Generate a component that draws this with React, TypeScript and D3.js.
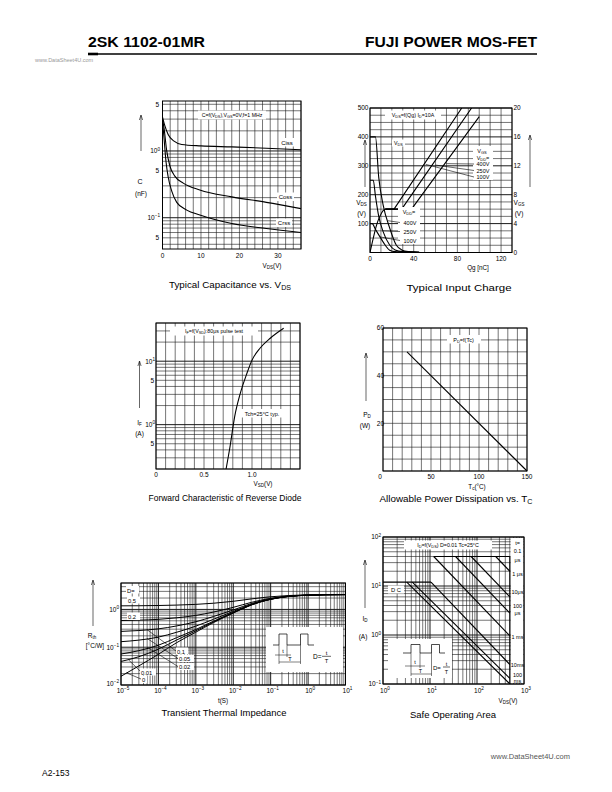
import React from 'react';
import * as d3 from 'd3';

const FONT = "'Liberation Sans', Arial, Helvetica, sans-serif";

// ===== Chart 1: Typical Capacitance vs. VDS =====
const capXTicks = [0, 10, 20, 30];
const cissV = [0, 0.5, 1.5, 3, 5, 10, 18, 27, 36];
const cissC = [3.2, 2.5, 1.75, 1.4, 1.25, 1.19, 1.15, 1.1, 1.04];
const cossV = [0, 0.4, 1.1, 1.9, 3.2, 5.4, 9.7, 18, 27, 36];
const cossC = [3.0, 2.2, 1.0, 0.6, 0.42, 0.33, 0.26, 0.205, 0.17, 0.137];
const crssV = [0, 0.4, 0.9, 1.5, 2.4, 3.7, 6.3, 9.7, 18, 27, 36];
const crssC = [2.8, 1.55, 0.7, 0.4, 0.25, 0.17, 0.13, 0.11, 0.082, 0.069, 0.06];

// ===== Chart 2: Typical Input Charge =====
const qgTicks = [0, 40, 80, 120];
const vdsTicks = [100, 200, 300, 400, 500];
const vgsTicks = [0, 4, 8, 12, 16, 20];
const vgsRiseQ = [0, 3, 6, 9, 12, 14];
const vgsRise = [0, 2, 3.8, 5, 5.8, 6];
const vgs100Q = [14, 22, 84];
const vgs100 = [6, 6, 20];
const vgs250Q = [14, 29, 93];
const vgs250 = [6, 6, 20];
const vgs400Q = [14, 38, 100];
const vgs400 = [6, 6, 18.8];
const vds400Q = [0, 5, 8, 12, 18, 24, 29, 35, 45];
const vds400 = [400, 400, 260, 165, 85, 26, 9, 3, 1];
const vds250Q = [0, 3, 5, 8, 12, 18, 23, 30, 45];
const vds250 = [250, 250, 195, 125, 72, 26, 9, 3, 1];
const vds100Q = [0, 2, 5, 9, 14, 18, 23, 30, 45];
const vds100 = [100, 100, 80, 55, 25, 8, 3, 2, 1];

// ===== Chart 3: Forward Characteristic of Reverse Diode =====
const vsdTicks = [0, 0.5, 1.0];
const diodeV = [0.73, 0.77, 0.82, 0.875, 0.945, 1.0, 1.083, 1.19, 1.33];
const diodeI = [0.2, 0.44, 1.35, 3.0, 6.3, 10.4, 16, 23, 33];

// ===== Chart 4: Allowable Power Dissipation =====
const tcTicks = [0, 50, 100, 150];
const pdTicks = [20, 40, 60];
const pdT = [25, 150];
const pdW = [50, 0];

// ===== Chart 5: Transient Thermal Impedance =====
const thermExp = [-5, -4, -3, -2, -1, 0, 1];
const thermT = [1e-5, 3e-5, 1e-4, 3e-4, 1e-3, 3e-3, 1e-2, 3e-2, 0.1, 0.3, 1, 3, 10];
const zthSingle = [0.017, 0.032, 0.065, 0.13, 0.25, 0.45, 0.8, 1.3, 1.85, 2.2, 2.38, 2.45, 2.47];
const zthD001 = [0.042, 0.056, 0.089, 0.153, 0.272, 0.47, 0.817, 1.31, 1.86, 2.2, 2.38, 2.45, 2.47];
const zthD002 = [0.066, 0.081, 0.113, 0.177, 0.294, 0.49, 0.833, 1.32, 1.86, 2.21, 2.38, 2.45, 2.47];
const zthD005 = [0.14, 0.154, 0.185, 0.247, 0.361, 0.551, 0.884, 1.36, 1.88, 2.21, 2.38, 2.45, 2.47];
const zthD01 = [0.262, 0.276, 0.306, 0.364, 0.472, 0.652, 0.967, 1.42, 1.91, 2.23, 2.39, 2.45, 2.47];
const zthD02 = [0.508, 0.52, 0.546, 0.598, 0.694, 0.854, 1.134, 1.53, 1.97, 2.25, 2.4, 2.45, 2.47];
const zthD05 = [1.244, 1.25, 1.27, 1.3, 1.36, 1.46, 1.64, 1.89, 2.16, 2.33, 2.41, 2.46, 2.47];

// ===== Chart 6: Safe Operating Area =====
const soaExp = [0, 1, 2, 3];
const soaYExp = [2, 1, 0, -1];
const soaDcLimV = [1, 10.5];
const soaDcLimI = [12, 12];
const soaPulseLimV = [12, 500];
const soaPulseLimI = [40, 40];
const soaStartV = [3.2, 4.2, 10.5, 12, 35, 75, 250];
const soaStartI = [12, 12, 12, 40, 40, 40, 40];
const soaEndV = [500, 500, 500, 500, 500, 500, 500];
const soaEndI = [0.1, 0.13, 0.25, 0.96, 2.8, 6, 20];

// ---------- helpers ----------
function logVals(min: number, max: number) {
  const out: number[] = [];
  for (let n = Math.floor(Math.log10(min)); n <= Math.ceil(Math.log10(max)); n++) {
    for (let k = 1; k < 10; k++) {
      const v = k * Math.pow(10, n);
      if (v >= min * 0.9999 && v <= max * 1.0001) out.push(v);
    }
  }
  return out;
}
function isDecade(v: number) {
  const l = Math.log10(v);
  return Math.abs(l - Math.round(l)) < 1e-6;
}
function mkPath(xs: number[], ys: number[], sx: any, sy: any, curve: any = d3.curveMonotoneX) {
  const l = d3.line<number>().x((_, i) => sx(xs[i])).y((_, i) => sy(ys[i])).curve(curve);
  return l(xs) || '';
}
const GRID = '#1a1a1a';

function Pow({ x, y, e, anchor = 'middle', fs = 6.5 }: { x: number; y: number; e: string; anchor?: string; fs?: number }) {
  return (
    <text x={x} y={y} textAnchor={anchor as any} fontSize={fs}>
      10<tspan dy={-fs * 0.42} fontSize={fs * 0.72}>{e}</tspan>
    </text>
  );
}
function UpArrow({ x, y1, y2 }: { x: number; y1: number; y2: number }) {
  return (
    <g stroke="#000" strokeWidth={0.6} fill="none">
      <line x1={x} x2={x} y1={y1} y2={y2 + 0.5} />
      <path d={`M${x - 1.6},${y2 + 5} L${x},${y2} L${x + 1.6},${y2 + 5}`} />
    </g>
  );
}
function Frame({ L, R, T, B }: { L: number; R: number; T: number; B: number }) {
  return <rect x={L} y={T} width={R - L} height={B - T} fill="none" stroke="#000" strokeWidth={1} />;
}
function VGrid({ xs, sx, T, B, major }: { xs: number[]; sx: any; T: number; B: number; major?: (v: number) => boolean }) {
  return (
    <g>
      {xs.map((v, i) => (
        <line key={i} x1={sx(v)} x2={sx(v)} y1={T} y2={B} stroke={GRID} strokeWidth={major && major(v) ? 1 : 0.6} />
      ))}
    </g>
  );
}
function HGrid({ ys, sy, L, R, major }: { ys: number[]; sy: any; L: number; R: number; major?: (v: number) => boolean }) {
  return (
    <g>
      {ys.map((v, i) => (
        <line key={i} x1={L} x2={R} y1={sy(v)} y2={sy(v)} stroke={GRID} strokeWidth={major && major(v) ? 1 : 0.6} />
      ))}
    </g>
  );
}
function Title({ x, y, w, children }: { x: number; y: number; w: number; children: any }) {
  return (
    <text x={x} y={y} textAnchor="middle" fontSize={9} textLength={w} lengthAdjust="spacingAndGlyphs">
      {children}
    </text>
  );
}

// ---------- Chart 1 ----------
function Chart1() {
  const L = 162.5, R = 301, T = 101, B = 249;
  const sx = d3.scaleLinear().domain([0, 36]).range([L, R]);
  const sy = d3.scaleLog().domain([0.034, 5.6]).range([B, T]);
  return (
    <g>
      <defs>
        <clipPath id="c1"><rect x={L} y={T} width={R - L} height={B - T} /></clipPath>
      </defs>
      <VGrid xs={d3.range(0, 37, 2)} sx={sx} T={T} B={B} />
      <HGrid ys={logVals(0.034, 5.6)} sy={sy} L={L} R={R} major={isDecade} />
      <g clipPath="url(#c1)" fill="none" stroke="#000" strokeWidth={1.1}>
        <path d={mkPath(cissV, cissC, sx, sy)} />
        <path d={mkPath(cossV, cossC, sx, sy)} />
        <path d={mkPath(crssV, crssC, sx, sy)} />
      </g>
      <Frame L={L} R={R} T={T} B={B} />
      <rect x={198} y={110.5} width={68} height={9} fill="#fff" />
      <text x={232} y={117.3} textAnchor="middle" fontSize={5.2}>
        C=f(V<tspan fontSize={3.8} dy={1}>DS</tspan><tspan dy={-1}>),V</tspan><tspan fontSize={3.8} dy={1}>GS</tspan><tspan dy={-1}>=0V,f=1 MHz</tspan>
      </text>
      <rect x={279} y={138} width={16} height={8.5} fill="#fff" />
      <text x={287} y={144.5} textAnchor="middle" fontSize={6}>Ciss</text>
      <rect x={277} y={192.5} width={17} height={8.5} fill="#fff" />
      <text x={285.5} y={199} textAnchor="middle" fontSize={6}>Coss</text>
      <rect x={276} y={218.5} width={16} height={8.5} fill="#fff" />
      <text x={284} y={225} textAnchor="middle" fontSize={6}>Crss</text>
      {/* y ticks */}
      <text x={159} y={sy(5) + 2.3} textAnchor="end" fontSize={6.5}>5</text>
      <Pow x={160} y={sy(1) + 2.3} e="0" anchor="end" />
      <text x={159} y={sy(0.5) + 2.3} textAnchor="end" fontSize={6.5}>5</text>
      <Pow x={160} y={sy(0.1) + 2.3} e="−1" anchor="end" />
      <text x={159} y={sy(0.05) + 2.3} textAnchor="end" fontSize={6.5}>5</text>
      {capXTicks.map((v) => (
        <text key={v} x={sx(v)} y={258} textAnchor="middle" fontSize={6.5}>{v}</text>
      ))}
      <text x={272} y={268} textAnchor="middle" fontSize={6.3}>
        V<tspan fontSize={4.5} dy={1}>DS</tspan><tspan dy={-1}>(V)</tspan>
      </text>
      <UpArrow x={141} y1={151} y2={115} />
      <text x={140} y={184} textAnchor="middle" fontSize={7}>C</text>
      <text x={141} y={196} textAnchor="middle" fontSize={6.5}>(nF)</text>
      <Title x={230} y={288} w={122}>Typical Capacitance vs. V<tspan fontSize={6.5} dy={1.5}>DS</tspan></Title>
    </g>
  );
}

// ---------- Chart 2 ----------
function Chart2() {
  const L = 370, R = 512, T = 108, B = 252.5;
  const sx = d3.scaleLinear().domain([0, 130]).range([L, R]);
  const sy = d3.scaleLinear().domain([0, 500]).range([B, T]);
  const sy2 = d3.scaleLinear().domain([0, 20]).range([B, T]);
  const lin = d3.curveLinear;
  return (
    <g>
      <defs>
        <clipPath id="c2"><rect x={L} y={T} width={R - L} height={B - T} /></clipPath>
      </defs>
      <VGrid xs={d3.range(0, 131, 10)} sx={sx} T={T} B={B} />
      <HGrid ys={d3.range(0, 501, 25)} sy={sy} L={L} R={R} major={(v) => v % 100 === 0} />
      <rect x={385} y={110.5} width={56} height={9} fill="#fff" />
      <g clipPath="url(#c2)" fill="none" stroke="#000" strokeWidth={1.1}>
        <path d={mkPath(vgsRiseQ, vgsRise, sx, sy2)} />
        <path d={mkPath(vgs100Q, vgs100, sx, sy2, lin)} />
        <path d={mkPath(vgs250Q, vgs250, sx, sy2, lin)} />
        <path d={mkPath(vgs400Q, vgs400, sx, sy2, lin)} />
        <path d={mkPath(vds400Q, vds400, sx, sy)} />
        <path d={mkPath(vds250Q, vds250, sx, sy)} />
        <path d={mkPath(vds100Q, vds100, sx, sy)} />
      </g>
      <Frame L={L} R={R} T={T} B={B} />
      <text x={413} y={117.3} textAnchor="middle" fontSize={5.3}>
        V<tspan fontSize={3.9} dy={1}>DS</tspan><tspan dy={-1}>=f(Qg) I</tspan><tspan fontSize={3.9} dy={1}>D</tspan><tspan dy={-1}>=10A</tspan>
      </text>
      <rect x={392} y={139.5} width={13} height={7} fill="#fff" />
      <text x={398.5} y={145} textAnchor="middle" fontSize={5.3}>V<tspan fontSize={3.9} dy={1}>DS</tspan></text>
      {/* upper labels */}
      <rect x={473} y={146} width={20} height={34} fill="#fff" />
      <text x={482} y={153} textAnchor="middle" fontSize={5.5}>V<tspan fontSize={4} dy={1}>GS</tspan></text>
      <text x={483} y={159.8} textAnchor="middle" fontSize={5.5}>V<tspan fontSize={4} dy={1}>DD</tspan><tspan dy={-1}>=</tspan></text>
      <text x={483} y={166} textAnchor="middle" fontSize={5.5}>400V</text>
      <text x={483} y={172.5} textAnchor="middle" fontSize={5.5}>250V</text>
      <text x={483} y={179} textAnchor="middle" fontSize={5.5}>100V</text>
      <g stroke="#000" strokeWidth={0.6}>
        <line x1={474} y1={164} x2={sx(70)} y2={sy2(12.3)} />
        <line x1={474} y1={170.5} x2={sx(60)} y2={sy2(12.1)} />
        <line x1={474} y1={177} x2={sx(51)} y2={sy2(12.2)} />
      </g>
      {/* lower labels */}
      <rect x={398} y={207} width={22} height={37} fill="#fff" />
      <text x={409} y={214} textAnchor="middle" fontSize={5.5}>V<tspan fontSize={4} dy={1}>DD</tspan><tspan dy={-1}>=</tspan></text>
      <text x={410} y={224.5} textAnchor="middle" fontSize={5.5}>400V</text>
      <text x={410} y={233.5} textAnchor="middle" fontSize={5.5}>250V</text>
      <text x={410} y={242.5} textAnchor="middle" fontSize={5.5}>100V</text>
      <g stroke="#000" strokeWidth={0.6}>
        <line x1={400} y1={222.5} x2={sx(16.5)} y2={sy(110)} />
        <line x1={400} y1={231.5} x2={sx(11.8)} y2={sy(75)} />
        <line x1={400} y1={240.5} x2={sx(9.2)} y2={sy(54)} />
      </g>
      {vdsTicks.map((v) => (
        <text key={v} x={368.5} y={sy(v) + 2.3} textAnchor="end" fontSize={6.5}>{v}</text>
      ))}
      {vgsTicks.map((v) => (
        <text key={v} x={513.5} y={sy2(v) + 2.3} textAnchor="start" fontSize={6.5}>{v}</text>
      ))}
      {qgTicks.map((v) => (
        <text key={v} x={sx(v)} y={261} textAnchor="middle" fontSize={6.5}>{v}</text>
      ))}
      <text x={478} y={270} textAnchor="middle" fontSize={6.3}>Qg [nC]</text>
      <UpArrow x={365} y1={187} y2={140} />
      <text x={361.5} y={205} textAnchor="middle" fontSize={6.5}>V<tspan fontSize={4.5} dy={1}>DS</tspan></text>
      <text x={361.5} y={216} textAnchor="middle" fontSize={6.5}>(V)</text>
      <UpArrow x={530} y1={187} y2={135} />
      <text x={519} y={205} textAnchor="middle" fontSize={6.5}>V<tspan fontSize={4.5} dy={1}>GS</tspan></text>
      <text x={519} y={216} textAnchor="middle" fontSize={6.5}>(V)</text>
      <Title x={459} y={291} w={105}>Typical Input Charge</Title>
    </g>
  );
}

// ---------- Chart 3 ----------
function Chart3() {
  const L = 156, R = 300, T = 323, B = 469;
  const sx = d3.scaleLinear().domain([0, 1.5]).range([L, R]);
  const sy = d3.scaleLog().domain([0.2, 40]).range([B, T]);
  return (
    <g>
      <defs>
        <clipPath id="c3"><rect x={L} y={T} width={R - L} height={B - T} /></clipPath>
      </defs>
      <VGrid xs={d3.range(0, 15.5, 1).map((v) => v / 10)} sx={sx} T={T} B={B} />
      <HGrid ys={logVals(0.2, 40)} sy={sy} L={L} R={R} major={isDecade} />
      <rect x={170} y={326.5} width={88} height={9} fill="#fff" />
      <rect x={240} y={409} width={44} height={8.5} fill="#fff" />
      <g clipPath="url(#c3)" fill="none" stroke="#000" strokeWidth={1.1}>
        <path d={mkPath(diodeV, diodeI, sx, sy)} />
      </g>
      <Frame L={L} R={R} T={T} B={B} />
      <text x={214} y={333.3} textAnchor="middle" fontSize={5.3}>
        I<tspan fontSize={3.9} dy={1}>F</tspan><tspan dy={-1}>=f(V</tspan><tspan fontSize={3.9} dy={1}>SD</tspan><tspan dy={-1}>):80μs pulse test</tspan>
      </text>
      <text x={262} y={415.5} textAnchor="middle" fontSize={5.5}>Tch=25°C typ.</text>
      <Pow x={155} y={sy(10) + 2.3} e="1" anchor="end" />
      <text x={154} y={sy(5) + 2.3} textAnchor="end" fontSize={6.5}>5</text>
      <Pow x={155} y={sy(1) + 2.3} e="0" anchor="end" />
      <text x={154} y={sy(0.5) + 2.3} textAnchor="end" fontSize={6.5}>5</text>
      {vsdTicks.map((v) => (
        <text key={v} x={sx(v)} y={477} textAnchor="middle" fontSize={6.5}>{v === 0 ? '0' : v.toFixed(1)}</text>
      ))}
      <text x={263} y={486} textAnchor="middle" fontSize={6.3}>
        V<tspan fontSize={4.5} dy={1}>SD</tspan><tspan dy={-1}>(V)</tspan>
      </text>
      <UpArrow x={139.5} y1={408} y2={361} />
      <text x={139.5} y={425} textAnchor="middle" fontSize={6.5}>I<tspan fontSize={4.5} dy={1}>F</tspan></text>
      <text x={139.5} y={436} textAnchor="middle" fontSize={6.5}>(A)</text>
      <Title x={225} y={501} w={153}>Forward Characteristic of Reverse Diode</Title>
    </g>
  );
}

// ---------- Chart 4 ----------
function Chart4() {
  const L = 383, R = 527, T = 328, B = 471;
  const sx = d3.scaleLinear().domain([0, 150]).range([L, R]);
  const sy = d3.scaleLinear().domain([0, 60]).range([B, T]);
  return (
    <g>
      <VGrid xs={d3.range(0, 151, 10)} sx={sx} T={T} B={B} />
      <HGrid ys={d3.range(0, 61, 5)} sy={sy} L={L} R={R} />
      <rect x={447} y={335} width={34} height={8.5} fill="#fff" />
      <path d={mkPath(pdT, pdW, sx, sy, d3.curveLinear)} fill="none" stroke="#000" strokeWidth={1.1} />
      <Frame L={L} R={R} T={T} B={B} />
      <text x={463.5} y={341.5} textAnchor="middle" fontSize={5.5}>
        P<tspan fontSize={4} dy={1}>D</tspan><tspan dy={-1}>=f(Tc)</tspan>
      </text>
      {pdTicks.map((v) => (
        <text key={v} x={384} y={sy(v) + 2.3} textAnchor="end" fontSize={6.5}>{v}</text>
      ))}
      {tcTicks.map((v) => (
        <text key={v} x={sx(v) - (v === 0 ? 3 : 0)} y={479} textAnchor="middle" fontSize={6.5}>{v}</text>
      ))}
      <text x={477} y={489} textAnchor="middle" fontSize={6.3}>
        T<tspan fontSize={4.5} dy={1}>c</tspan><tspan dy={-1}>(°C)</tspan>
      </text>
      <UpArrow x={366} y1={401} y2={353} />
      <text x={367} y={417} textAnchor="middle" fontSize={6.5}>P<tspan fontSize={4.5} dy={1}>D</tspan></text>
      <text x={365} y={428} textAnchor="middle" fontSize={6.5}>(W)</text>
      <Title x={456} y={502} w={153}>Allowable  Power  Dissipation  vs.  T<tspan fontSize={6.5} dy={1.5}>C</tspan></Title>
    </g>
  );
}

// ---------- Chart 5 ----------
function Chart5() {
  const L = 121, R = 345.5, T = 583, B = 685;
  const sx = d3.scaleLog().domain([1e-5, 10]).range([L, R]);
  const sy = d3.scaleLog().domain([0.01, 5]).range([B, T]);
  const series = [zthSingle, zthD001, zthD002, zthD005, zthD01, zthD02, zthD05];
  return (
    <g>
      <defs>
        <clipPath id="c5"><rect x={L} y={T} width={R - L} height={B - T} /></clipPath>
      </defs>
      <VGrid xs={logVals(1e-5, 10)} sx={sx} T={T} B={B} major={isDecade} />
      <HGrid ys={logVals(0.01, 5)} sy={sy} L={L} R={R} major={isDecade} />
      <g clipPath="url(#c5)" fill="none" stroke="#000" strokeWidth={1}>
        {series.map((s, i) => (
          <path key={i} d={mkPath(thermT, s, sx, sy)} />
        ))}
      </g>
      <Frame L={L} R={R} T={T} B={B} />
      {/* labels */}
      <rect x={126} y={586} width={13} height={7.5} fill="#fff" />
      <text x={127} y={592.5} fontSize={5.8}>D=</text>
      <rect x={127} y={596.5} width={13} height={7} fill="#fff" />
      <text x={128} y={602.5} fontSize={5.8}>0.5</text>
      <rect x={127} y={612.5} width={13} height={7.5} fill="#fff" />
      <text x={128} y={619} fontSize={5.8}>0.2</text>
      <rect x={176} y={647.5} width={12} height={7} fill="#fff" />
      <text x={177} y={653.5} fontSize={5.8}>0.1</text>
      <rect x={178} y={655} width={16} height={7} fill="#fff" />
      <text x={179} y={661} fontSize={5.8}>0.05</text>
      <rect x={178} y={663} width={16} height={7} fill="#fff" />
      <text x={179} y={669} fontSize={5.8}>0.02</text>
      <rect x={140} y={668.5} width={16} height={7} fill="#fff" />
      <text x={141} y={674.5} fontSize={5.8}>0.01</text>
      <rect x={141} y={676} width={6} height={7} fill="#fff" />
      <text x={142} y={682} fontSize={5.8}>0</text>
      <g stroke="#000" strokeWidth={0.6}>
        <line x1={176} y1={651} x2={sx(5e-5)} y2={sy(0.29)} />
        <line x1={178} y1={658.5} x2={sx(5e-5)} y2={sy(0.17)} />
        <line x1={178} y1={666.5} x2={sx(5e-5)} y2={sy(0.1)} />
        <line x1={140} y1={671} x2={sx(1.6e-5)} y2={sy(0.046)} />
        <line x1={141} y1={679} x2={sx(1.4e-5)} y2={sy(0.021)} />
      </g>
      {/* inset */}
      <rect x={266} y={627} width={77} height={45} fill="#fff" />
      <g fill="none" stroke="#000" strokeWidth={0.7}>
        <path d="M273,645 H279 V634 H287 V645 H300.5 V634 H308 V645 H314" />
        <line x1={279} y1={645} x2={279} y2={664} strokeWidth={0.5} />
        <line x1={287} y1={645} x2={287} y2={657} strokeWidth={0.5} />
        <line x1={300.5} y1={645} x2={300.5} y2={664} strokeWidth={0.5} />
        <line x1={275} y1={655} x2={291} y2={655} strokeWidth={0.5} />
        <line x1={279} y1={662} x2={300.5} y2={662} strokeWidth={0.5} />
        <line x1={322} y1={656.3} x2={331} y2={656.3} strokeWidth={0.6} />
      </g>
      <text x={283} y={653} textAnchor="middle" fontSize={5.5}>t</text>
      <text x={290} y={660.5} textAnchor="middle" fontSize={5.5}>T</text>
      <text x={313} y={659} fontSize={6.5}>D=</text>
      <text x={326.5} y={654.5} textAnchor="middle" fontSize={5.8}>t</text>
      <text x={326.5} y={663} textAnchor="middle" fontSize={5.8}>T</text>
      {/* ticks */}
      <Pow x={119} y={sy(1) + 2.3} e="0" anchor="end" />
      <Pow x={119} y={sy(0.1) + 2.3} e="−1" anchor="end" />
      <Pow x={119} y={sy(0.01) + 1} e="−2" anchor="end" />
      {thermExp.map((e) => (
        <Pow key={e} x={sx(Math.pow(10, e)) + 2} y={692.5} e={e < 0 ? '−' + -e : String(e)} />
      ))}
      <text x={223} y={702.5} textAnchor="middle" fontSize={6.3}>t(S)</text>
      <UpArrow x={93} y1={626} y2={580} />
      <text x={92} y={638} textAnchor="middle" fontSize={6.5}>R<tspan fontSize={4.5} dy={1}>th</tspan></text>
      <text x={95} y={648} textAnchor="middle" fontSize={6.3}>[°C/W]</text>
      <Title x={224} y={716} w={125}>Transient Thermal Impedance</Title>
    </g>
  );
}

// ---------- Chart 6 ----------
function Chart6() {
  const L = 383, R = 524, T = 537, B = 684;
  const sx = d3.scaleLog().domain([1, 1000]).range([L, R]);
  const sy = d3.scaleLog().domain([0.1, 100]).range([B, T]);
  const lin = d3.curveLinear;
  const colLabels: [string, number][] = [
    ['t=', 545], ['0.1', 553], ['μs', 561.5], ['1 μs', 575.5], ['10μs', 594],
    ['100', 607.5], ['μs', 615], ['1 ms', 639], ['10ms', 667], ['100', 676.5], ['ms', 683],
  ];
  return (
    <g>
      <defs>
        <clipPath id="c6"><rect x={L} y={T} width={R - L} height={B - T} /></clipPath>
      </defs>
      <VGrid xs={logVals(1, 1000)} sx={sx} T={T} B={B} major={isDecade} />
      <HGrid ys={logVals(0.1, 100)} sy={sy} L={L} R={R} major={isDecade} />
      <rect x={404} y={540.5} width={88} height={9} fill="#fff" />
      <rect x={sx(500) + 0.8} y={T + 1} width={R - sx(500) - 1.5} height={B - T - 2} fill="#fff" />
      <g clipPath="url(#c6)" fill="none" stroke="#000" strokeWidth={1.1}>
        <path d={mkPath(soaDcLimV, soaDcLimI, sx, sy, lin)} />
        <path d={mkPath(soaPulseLimV, soaPulseLimI, sx, sy, lin)} />
        {soaStartV.map((v, i) => (
          <path key={i} d={mkPath([v, soaEndV[i]], [soaStartI[i], soaEndI[i]], sx, sy, lin)} />
        ))}
        <line x1={sx(500)} x2={sx(500)} y1={sy(40)} y2={B} />
      </g>
      <Frame L={L} R={R} T={T} B={B} />
      <text x={448} y={547} textAnchor="middle" fontSize={5.3}>
        I<tspan fontSize={3.9} dy={1}>D</tspan><tspan dy={-1}>=f(V</tspan><tspan fontSize={3.9} dy={1}>DS</tspan><tspan dy={-1}>) D=0.01 Tc=25°C</tspan>
      </text>
      {colLabels.map(([s, y], i) => (
        <text key={i} x={517.5} y={y} textAnchor="middle" fontSize={5.5}>{s}</text>
      ))}
      <rect x={388} y={585.5} width={16} height={8} fill="#fff" />
      <text x={396} y={592} textAnchor="middle" fontSize={5.8}>D C</text>
      {/* inset */}
      <rect x={388} y={639} width={64} height={39} fill="#fff" />
      <g fill="none" stroke="#000" strokeWidth={0.7}>
        <path d="M403,653 H411 V644.5 H420 V653 H431.5 V644.5 H439.5 V653 H445" />
        <line x1={411} y1={653} x2={411} y2={676} strokeWidth={0.5} />
        <line x1={420} y1={653} x2={420} y2={668} strokeWidth={0.5} />
        <line x1={431.5} y1={653} x2={431.5} y2={676} strokeWidth={0.5} />
        <line x1={405} y1={666} x2={425} y2={666} strokeWidth={0.5} />
        <line x1={411} y1={674} x2={431.5} y2={674} strokeWidth={0.5} />
        <line x1={443} y1={667} x2={450} y2={667} strokeWidth={0.6} />
      </g>
      <text x={415} y={664} textAnchor="middle" fontSize={5.5}>t</text>
      <text x={420.5} y={672.5} textAnchor="middle" fontSize={5.5}>T</text>
      <text x={433} y={669.5} fontSize={6}>D=</text>
      <text x={446.5} y={665.5} textAnchor="middle" fontSize={5.5}>t</text>
      <text x={446.5} y={673.5} textAnchor="middle" fontSize={5.5}>T</text>
      {soaYExp.map((e) => (
        <Pow key={e} x={381} y={sy(Math.pow(10, e)) + 2.3} e={e < 0 ? '−' + -e : String(e)} anchor="end" />
      ))}
      {soaExp.map((e) => (
        <Pow key={e} x={sx(Math.pow(10, e)) + 2} y={693} e={String(e)} />
      ))}
      <text x={508} y={703} textAnchor="middle" fontSize={6.3}>
        V<tspan fontSize={4.5} dy={1}>DS</tspan><tspan dy={-1}>(V)</tspan>
      </text>
      <UpArrow x={365} y1={608} y2={560} />
      <text x={365} y={621} textAnchor="middle" fontSize={6.5}>I<tspan fontSize={4.5} dy={1}>D</tspan></text>
      <text x={363} y={639.3} textAnchor="middle" fontSize={6.5}>(A)</text>
      <Title x={453} y={717.5} w={86}>Safe Operating Area</Title>
    </g>
  );
}

function Header() {
  return (
    <g>
      <text x={88} y={47} fontSize={14.5} fontWeight="bold" textLength={117} lengthAdjust="spacingAndGlyphs">2SK 1102-01MR</text>
      <text x={537} y={47} fontSize={14.5} fontWeight="bold" textAnchor="end" textLength={172} lengthAdjust="spacingAndGlyphs">FUJI POWER MOS-FET</text>
      <line x1={88} x2={537} y1={54} y2={54} stroke="#000" strokeWidth={1.6} />
      <line x1={88} x2={98} y1={54} y2={54} stroke="#000" strokeWidth={2.6} />
      <text x={35} y={62} fontSize={5.5} fill="#999">www.DataSheet4U.com</text>
    </g>
  );
}
function Footer() {
  return (
    <g>
      <text x={570} y={759} fontSize={7.5} fill="#555" textAnchor="end">www.DataSheet4U.com</text>
      <text x={42} y={776} fontSize={8.5}>A2-153</text>
    </g>
  );
}

export default function App() {
  return (
    <svg
      width={612}
      height={792}
      viewBox="0 0 612 792"
      style={{ position: 'absolute', left: 0, top: 0, background: '#fff' }}
      fontFamily={FONT}
    >
      <rect width={612} height={792} fill="#fff" />
      <Header />
      <Chart1 />
      <Chart2 />
      <Chart3 />
      <Chart4 />
      <Chart5 />
      <Chart6 />
      <Footer />
    </svg>
  );
}
